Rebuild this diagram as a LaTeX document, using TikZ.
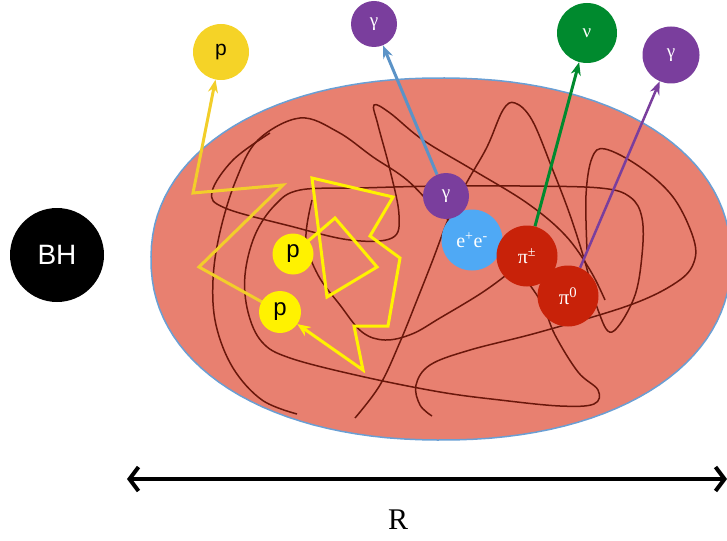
\documentclass[tikz,border=0pt]{standalone}
\usepackage{fontspec}
\setmainfont{Liberation Serif}
\newfontfamily\sansf{Liberation Sans}
\usetikzlibrary{arrows.meta}
\pgfdeclarelayer{bg}
\pgfsetlayers{bg,main}
\definecolor{salmon}{HTML}{E88070}
\definecolor{tangle}{HTML}{6A170B}
\definecolor{edgeblue}{HTML}{6A9FD4}
\definecolor{goldc}{HTML}{F5D327}
\definecolor{goldl}{HTML}{F2CE2A}
\definecolor{yel}{HTML}{FFF200}
\definecolor{purp}{HTML}{7A3E9D}
\definecolor{grn}{HTML}{008A2E}
\definecolor{lblue}{HTML}{4FA9F5}
\definecolor{redc}{HTML}{C82209}
\definecolor{barrow}{HTML}{5B93C7}
\begin{document}
\begin{tikzpicture}[x=1pt,y=-1pt,
  ball/.style={circle,inner sep=0pt,minimum size=#1},
  tangleline/.style={draw=tangle,line width=1.5pt},
  emit/.style={line width=3pt,-{Stealth[length=13pt,width=10pt]}},
  zig/.style={line width=3pt,line join=miter},
  greek/.style={text=white,font=\fontsize{19}{19}\selectfont},
  pfont/.style={font=\sansf\fontsize{24}{24}\selectfont}]
\useasboundingbox (0,0) rectangle (727,540);

% particles
\node[ball=94,fill=black,text=white,font=\sansf\fontsize{28}{28}\selectfont] (bh) at (57,255) {BH};
\node[ball=56,fill=goldc,font=\sansf\fontsize{21}{21}\selectfont] (ptop) at (221,52) {p};
\node[ball=46,fill=purp,greek] (gtop) at (374,24) {γ};
\node[ball=60,fill=grn,greek] (nu) at (587,33) {ν};
\node[ball=57,fill=purp,greek] (gr) at (671,55) {γ};
\node[ball=61,fill=lblue,text=white,font=\fontsize{20}{20}\selectfont] (ee) at (472,240) {e\textsuperscript{+}e\textsuperscript{-}};
\node[ball=46,fill=purp,greek] (gin) at (446,196) {γ};
\node[ball=61,fill=redc,text=white,font=\fontsize{20}{20}\selectfont] (pipm) at (527,256) {π\textsuperscript{±}};
\node[ball=61,fill=redc,text=white,font=\fontsize{21}{21}\selectfont] (pizero) at (568,296) {π\textsuperscript{0}};
\node[ball=41,fill=yel,pfont] (pa) at (293,254) {p};
\node[ball=42,fill=yel,pfont] (pb) at (280,312) {p};

% size arrow
\coordinate (rl) at (127,479);
\coordinate (rr) at (727,479);
\draw[line width=4pt,{Straight Barb[length=9pt,width=24pt,line width=4pt]}-{Straight Barb[length=9pt,width=24pt,line width=4pt]}] (rl) -- (rr);
\node[font=\fontsize{30}{30}\selectfont] (rlab) at (398,520) {R};

\begin{pgfonlayer}{bg}
\draw[fill=salmon,draw=edgeblue,line width=1.5pt] plot[domain=0.5:357.5,samples=120,variable=\t]
  ({441+290*sign(cos(\t))*abs(cos(\t))^(0.93)},{259+181*sign(sin(\t))*abs(sin(\t))^(0.93)}) -- cycle;

\draw[tangleline] plot[smooth,tension=0.6] coordinates {(270,133) (233,160) (212,192) (225,208) (290,226) (350,240) (392,238) (399,215) (390,170) (378,125) (374,105) (390,113) (423,140) (473,170) (527,203) (565,235) (590,270) (605,300)};
\draw[tangleline] plot[smooth,tension=0.6] coordinates {(297,414) (262,400) (233,368) (216,325) (213,280) (220,232) (236,180) (258,140) (300,118) (338,132) (373,157) (407,180) (440,213) (473,237) (510,262) (540,300) (555,335) (578,372) (598,390) (594,404) (560,406) (500,400) (440,392) (360,376) (290,358) (262,342) (248,312) (245,275) (255,235) (275,205) (300,190) (360,188) (440,186) (520,186) (600,188) (630,197) (642,218) (642,255) (634,298) (612,332) (598,310) (585,262) (570,215) (552,168) (532,120) (515,103) (503,110) (487,147) (467,182) (450,215) (432,262) (417,300) (400,342) (380,385) (355,418)};
\draw[tangleline] plot[smooth,tension=0.6] coordinates {(587,250) (586,195) (592,158) (605,149) (640,167) (673,197) (693,237) (694,262) (677,282) (630,305) (540,332) (470,350) (430,365) (416,385) (420,405) (432,416)};
\draw[tangleline] plot[smooth,tension=0.6] coordinates {(312,200) (306,240) (318,275) (340,305) (362,332) (385,340) (412,334) (440,318) (483,292) (515,268) (535,250)};

\draw[goldl,zig,-{Stealth[length=13pt,width=10pt]}] (pb.center) -- (199,267) -- (283,185) -- (193,193) -- (ptop);
\draw[yel,zig,-{Stealth[length=13pt,width=11pt]}] (pa.center) -- (335,218) -- (377,267) -- (327,297) -- (312,178) -- (393,197) -- (370,236) -- (400,258) -- (388,326) -- (354,326) -- (363,370) -- (pb);

\draw[barrow,emit] (gin) -- (gtop);
\draw[grn,emit] (pipm) -- (nu);
\draw[purp,emit,line width=2.5pt] (pizero) -- (gr);
\end{pgfonlayer}
\end{tikzpicture}
\end{document}
